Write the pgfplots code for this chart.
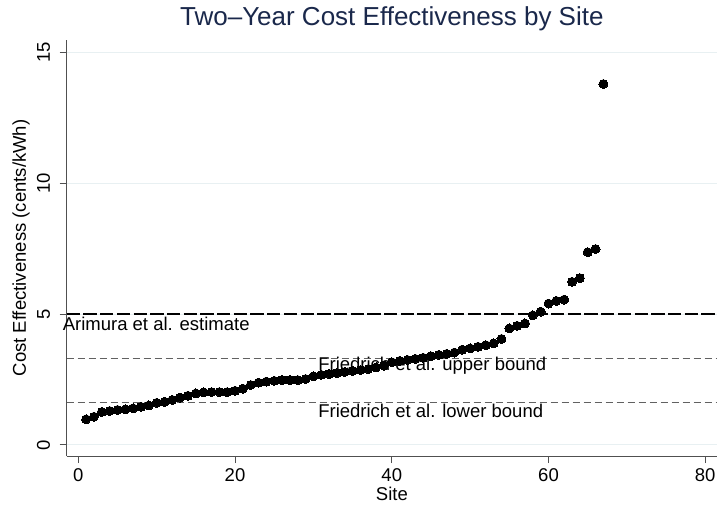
\documentclass[border=0pt]{standalone}
\usepackage{pgfplots}
\pgfplotsset{compat=1.18}
\usepackage{fontspec}
\setmainfont{Liberation Sans}
\definecolor{titlenavy}{RGB}{26,40,75}
\definecolor{gridc}{RGB}{232,240,242}
\definecolor{axc}{RGB}{80,80,80}
\pgfplotstableread{
site value
1 0.98
2 1.08
3 1.26
4 1.30
5 1.34
6 1.36
7 1.40
8 1.46
9 1.51
10 1.61
11 1.65
12 1.72
13 1.81
14 1.88
15 1.97
16 2.01
17 2.02
18 2.02
19 2.02
20 2.07
21 2.15
22 2.29
23 2.38
24 2.42
25 2.45
26 2.48
27 2.48
28 2.48
29 2.52
30 2.62
31 2.68
32 2.71
33 2.75
34 2.79
35 2.83
36 2.86
37 2.90
38 2.96
39 3.03
40 3.16
41 3.21
42 3.25
43 3.29
44 3.33
45 3.39
46 3.44
47 3.48
48 3.53
49 3.64
50 3.69
51 3.75
52 3.81
53 3.88
54 4.05
55 4.45
56 4.55
57 4.64
58 4.95
59 5.09
60 5.40
61 5.50
62 5.55
63 6.23
64 6.37
65 7.36
66 7.48
67 13.78
}\sitedata
\begin{document}
\begin{tikzpicture}
\begin{axis}[
  name=ax,
  scale only axis,
  width=650.3pt, height=416pt,
  xmin=-1.48, xmax=81.5,
  ymin=-0.42, ymax=15.46,
  axis x line*=bottom, axis y line*=left,
  axis line style={axc, line width=1pt},
  xtick={0,20,40,60,80},
  ytick={0,5,10,15},
  tick align=outside,
  major tick length=7pt,
  tick style={axc, line width=1pt},
  ymajorgrids=true,
  grid style={gridc, line width=1pt},
  /pgf/number format/assume math mode=true,
  ticklabel style={font=\fontsize{18.5}{20}\selectfont},
  yticklabel style={rotate=90, anchor=south, yshift=6pt},
  xticklabel style={yshift=-2pt},
  xlabel={Site},
  ylabel={Cost Effectiveness (cents/kWh)},
  label style={font=\fontsize{18.5}{20}\selectfont},
  xlabel style={at={(axis description cs:0.5,0)}, anchor=base, yshift=-44pt},
  ylabel style={at={(axis description cs:0,0.5)}, anchor=center, yshift=45.7pt},
  title={Two\textendash Year Cost Effectiveness by Site},
  title style={at={(axis description cs:0.5,1)}, anchor=base, yshift=8pt, font=\fontsize{26}{28}\selectfont, text=titlenavy},
  clip=false,
]
\addplot[black, line width=1.6pt, dash pattern=on 13.3pt off 3.4pt] coordinates {(-1.48,5) (81.5,5)};
\addplot[black!62, line width=1.2pt, dash pattern=on 7.3pt off 3.7pt] coordinates {(-1.48,3.31) (81.5,3.31)};
\addplot[black!62, line width=1.2pt, dash pattern=on 7.3pt off 3.7pt] coordinates {(-1.48,1.61) (81.5,1.61)};
\addplot[only marks, mark=*, mark size=4.5pt, mark options={fill=black, draw=black, line width=0pt}] table[x=site, y=value] {\sitedata};
\node[anchor=base west, inner sep=0pt, font=\fontsize{18.5}{20}\selectfont] at (axis cs:-2.0,4.36) {Arimura et al. estimate};
\node[anchor=base west, inner sep=0pt, font=\fontsize{18.5}{20}\selectfont] at (axis cs:30.6,2.84) {Friedrich et al. upper bound};
\node[anchor=base west, inner sep=0pt, font=\fontsize{18.5}{20}\selectfont] at (axis cs:30.6,1.06) {Friedrich et al. lower bound};
\end{axis}
\pgfresetboundingbox
\path ([shift={(-66.7pt,-50pt)}]ax.south west) rectangle ([shift={(0pt,40pt)}]ax.north east);
\end{tikzpicture}
\end{document}
